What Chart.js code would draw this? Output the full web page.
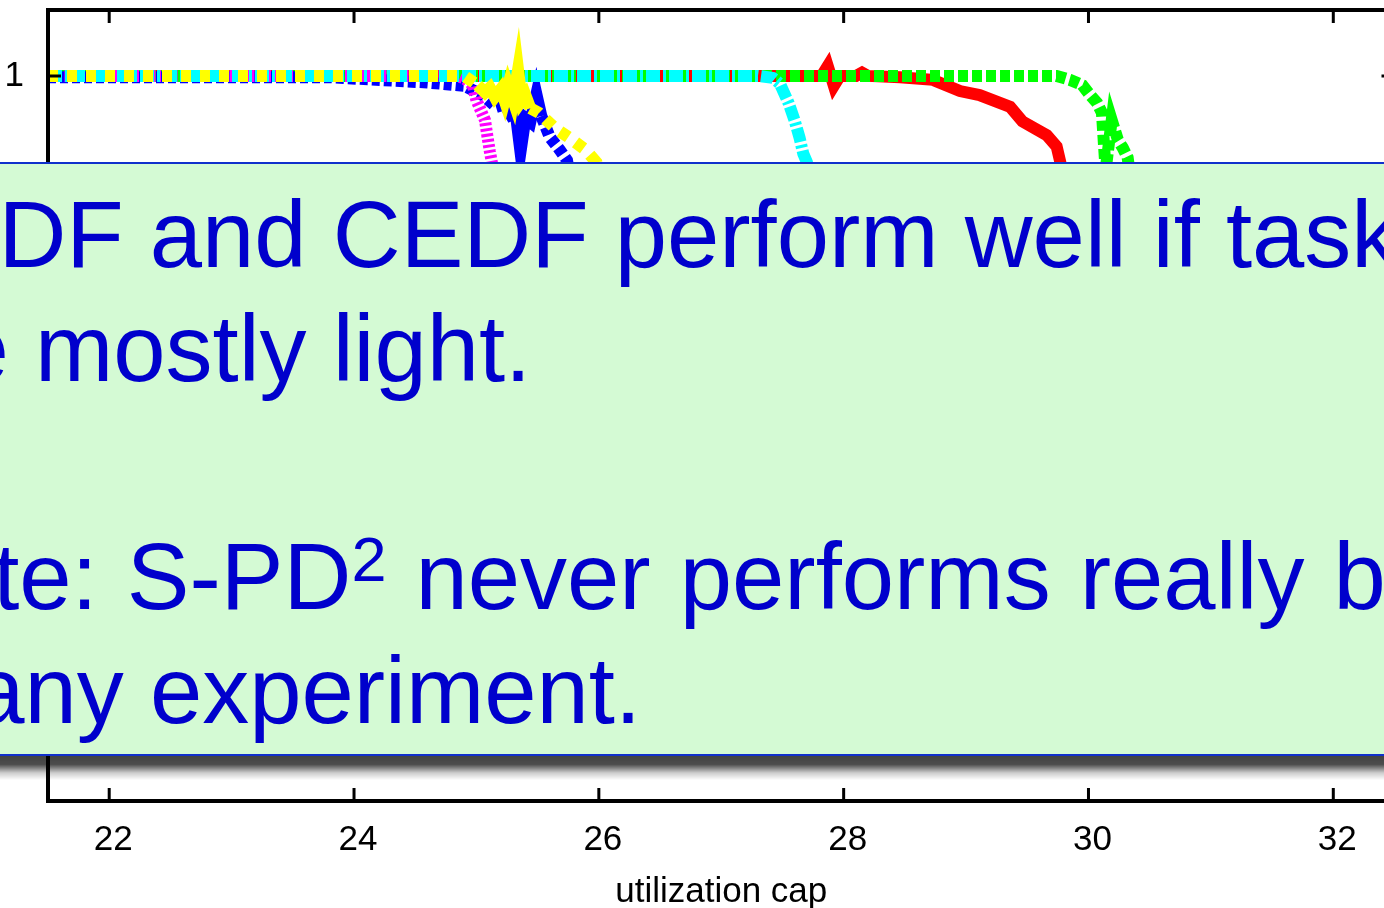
<!DOCTYPE html>
<html>
<head>
<meta charset="utf-8">
<script src="https://cdn.jsdelivr.net/npm/chart.js@4.4.0/dist/chart.umd.min.js"></script>
<style>
  html, body { margin: 0; padding: 0; background: #fff; overflow: hidden; width: 1384px; height: 908px; }
  #plot { position: absolute; left: 0; top: 0; }
  #note {
    position: absolute; left: -20px; top: 162px; width: 1440px; height: 594px;
    box-sizing: border-box; background: #d4fad4;
    border-top: 2px solid #1030cc; border-bottom: 2px solid #1030cc;
  }
  #shadow {
    position: absolute; left: 0; top: 756px; width: 1400px; height: 24px;
    background: linear-gradient(rgba(0,0,0,0.74) 0%, rgba(0,0,0,0.7) 35%, rgba(0,0,0,0.2) 70%, rgba(0,0,0,0) 100%);
  }
  #noteText {
    position: absolute; left: -127px; top: 178px; white-space: nowrap;
    font-family: "Liberation Sans", Arial, Helvetica, sans-serif;
    font-size: 94px; line-height: 114px; color: #0000cc;
  }
  #noteText .wide { word-spacing: 3px; }
  #noteText sup { font-size: 63px; line-height: 0; position: relative; top: -28px; vertical-align: baseline; }
</style>
</head>
<body>
<canvas id="plot" width="1420" height="908"></canvas>
<div id="shadow"></div>
<div id="note"></div>
<div id="noteText">PEDF and CEDF perform well if tasks<br>are mostly light.<br>&nbsp;<br><span class="wide">Note: S-PD<sup>2</sup> never performs really bad</span><br>in any experiment.</div>
<script>
const FONT = '"Liberation Sans", Arial, Helvetica, sans-serif';

const xTickValues = [22, 24, 26, 28, 30, 32];
const yTickValues = [0, 0.2, 0.4, 0.6, 0.8, 1];

// fraction of schedulable task sets vs. utilization cap
const redCap = [21.5, 27.6, 27.82, 27.87, 27.92, 27.97, 28.1, 28.15, 28.2, 28.46, 28.73, 28.95, 29.11, 29.36, 29.46, 29.66, 29.74, 29.77, 29.85, 29.95, 30.05, 30.2, 30.4, 32.5];
const redVal = [1, 1, 1, 1.015, 0.985, 1, 1, 1.005, 1, 0.998, 0.994, 0.977, 0.971, 0.953, 0.931, 0.91, 0.893, 0.869, 0.75, 0.55, 0.3, 0.1, 0, 0];

const greenCap = [21.5, 29.6, 29.74, 29.85, 29.95, 30.0, 30.07, 30.11, 30.14, 30.19, 30.24, 30.28, 30.32, 30.45, 30.65, 30.9, 31.1, 32.5];
const greenVal = [1, 1, 1, 0.994, 0.986, 0.974, 0.959, 0.944, 0.857, 0.933, 0.903, 0.891, 0.876, 0.7, 0.4, 0.1, 0, 0];

const blueCap = [21.5, 23.8, 24.6, 24.9, 25.06, 25.16, 25.23, 25.28, 25.32, 25.36, 25.4, 25.44, 25.49, 25.53, 25.6, 25.68, 25.74, 25.9, 26.2, 26.5, 26.8, 32.5];
const blueVal = [0.998, 0.998, 0.99, 0.985, 0.97, 0.953, 0.957, 0.941, 0.945, 0.885, 0.936, 0.93, 0.972, 0.939, 0.907, 0.888, 0.872, 0.7, 0.35, 0.1, 0, 0];

const magentaCap = [21.5, 24.85, 24.91, 24.97, 25.0, 25.07, 25.09, 25.11, 25.13, 25.2, 25.4, 25.6, 25.8, 32.5];
const magentaVal = [1, 1, 0.995, 0.986, 0.963, 0.933, 0.908, 0.885, 0.865, 0.7, 0.3, 0.05, 0, 0];

const cyanCap = [21.5, 27.3, 27.42, 27.48, 27.55, 27.6, 27.64, 27.67, 27.7, 27.8, 28.0, 28.2, 28.4, 32.5];
const cyanVal = [1, 1, 0.997, 0.988, 0.959, 0.932, 0.906, 0.882, 0.869, 0.7, 0.35, 0.1, 0, 0];

const yellowCap = [21.5, 24.9, 25.01, 25.07, 25.11, 25.15, 25.2, 25.23, 25.26, 25.3, 25.34, 25.37, 25.4, 25.44, 25.51, 25.64, 25.76, 25.89, 25.98, 26.2, 26.5, 26.8, 27.1, 32.5];
const yellowVal = [1, 1, 0.986, 0.975, 0.982, 0.968, 0.98, 0.963, 0.985, 0.963, 1.009, 0.963, 0.971, 0.951, 0.944, 0.921, 0.906, 0.888, 0.869, 0.6, 0.25, 0.05, 0, 0];

// noisy stretches where the dashed curves read as solid
const yellowSolid = [25.0, 25.45];
const blueSolid = [25.13, 25.56];

const pts = (xs, ys) => xs.map((x, i) => ({ x: x, y: ys[i] }));

function series(label, xs, ys, color, dash, solid) {
  const ds = {
    label: label,
    data: pts(xs, ys),
    borderColor: color,
    borderWidth: 12,
    borderDash: dash,
    borderCapStyle: 'butt',
    borderJoinStyle: 'miter',
    pointRadius: 0,
    tension: 0,
    fill: false
  };
  if (solid) {
    ds.segment = {
      borderDash: c => (c.p0.parsed.x >= solid[0] && c.p1.parsed.x <= solid[1]) ? [] : undefined
    };
  }
  return ds;
}

// box with inward tick marks on all four sides
const frame = {
  id: 'frame',
  afterDatasetsDraw(chart) {
    const { ctx, chartArea: a, scales } = chart;
    ctx.save();
    ctx.strokeStyle = '#000';
    ctx.lineWidth = 4;
    ctx.strokeRect(a.left, a.top, a.right - a.left, a.bottom - a.top);
    ctx.lineWidth = 3;
    ctx.beginPath();
    xTickValues.forEach(v => {
      const px = scales.x.getPixelForValue(v);
      ctx.moveTo(px, a.top); ctx.lineTo(px, a.top + 13);
      ctx.moveTo(px, a.bottom); ctx.lineTo(px, a.bottom - 13);
    });
    yTickValues.forEach(v => {
      const py = scales.y.getPixelForValue(v);
      ctx.moveTo(a.left, py); ctx.lineTo(a.left + 13, py);
      ctx.moveTo(a.right, py); ctx.lineTo(a.right - 13, py);
    });
    ctx.stroke();
    ctx.restore();
  }
};

new Chart(document.getElementById('plot'), {
  type: 'line',
  data: {
    datasets: [
      series('S-PD2', yellowCap, yellowVal, '#ffff00', [10, 9], yellowSolid),
      series('G-NP-EDF', cyanCap, cyanVal, '#00ffff', [14, 3, 3, 3]),
      series('G-EDF', magentaCap, magentaVal, '#ff00ff', [3, 2.5]),
      series('PD2', blueCap, blueVal, '#0000ff', [8, 4], blueSolid),
      series('C-EDF', greenCap, greenVal, '#00ff00', [10, 4]),
      series('P-EDF', redCap, redVal, '#ff0000', [])
    ]
  },
  options: {
    responsive: false,
    animation: false,
    layout: { padding: { top: 10, right: 25.5, bottom: 0, left: 0 } },
    plugins: { legend: { display: false }, tooltip: { enabled: false } },
    scales: {
      x: {
        type: 'linear',
        min: 21.5,
        max: 32.5,
        afterBuildTicks: s => { s.ticks = xTickValues.map(v => ({ value: v })); },
        afterFit: s => { s.height = 107; s.paddingLeft = 0; s.paddingRight = 0; },
        grid: { display: false, drawTicks: false },
        border: { display: false },
        ticks: {
          color: '#000', font: { family: FONT, size: 35 },
          padding: 18, labelOffset: 4, maxRotation: 0, autoSkip: false,
          callback: v => String(v)
        },
        title: {
          display: true, text: 'utilization cap', color: '#000',
          font: { family: FONT, size: 35 }, padding: { top: 0, bottom: -5 }
        }
      },
      y: {
        min: -0.1,
        max: 1.1,
        afterBuildTicks: s => { s.ticks = yTickValues.map(v => ({ value: v })); },
        afterFit: s => { s.width = 48; s.paddingTop = 0; s.paddingBottom = 0; },
        grid: { display: false, drawTicks: false },
        border: { display: false },
        ticks: {
          color: '#000', font: { family: FONT, size: 35 }, padding: 24,
          callback: v => String(v)
        }
      }
    }
  },
  plugins: [frame]
});
</script>
</body>
</html>
